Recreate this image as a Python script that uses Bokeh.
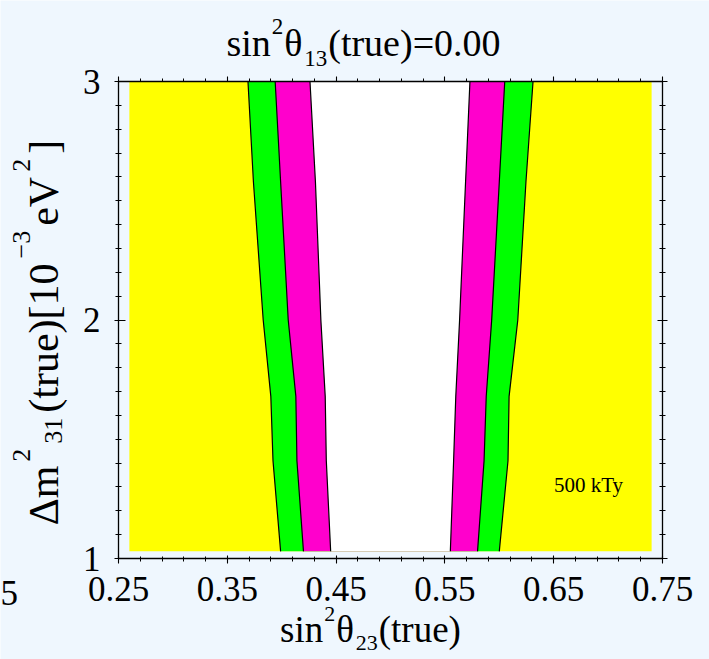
import math
from bokeh.plotting import figure
from bokeh.models import Label, LinearAxis, FixedTicker, CustomJSTickFormatter, Range1d
from bokeh.embed import file_html
from bokeh.resources import INLINE

# ---------------- data ----------------
y_levels    = [1.03, 1.41, 1.68, 2.00, 2.58, 3.00]
left_outer  = [0.399, 0.392, 0.390, 0.383, 0.374, 0.369]
left_mid    = [0.420, 0.414, 0.413, 0.406, 0.399, 0.394]
left_inner  = [0.445, 0.441, 0.440, 0.436, 0.431, 0.426]
right_inner = [0.555, 0.558, 0.560, 0.5635, 0.569, 0.573]
right_mid   = [0.580, 0.586, 0.588, 0.593, 0.600, 0.605]
right_outer = [0.600, 0.608, 0.609, 0.617, 0.6245, 0.631]
region_x = [0.26, 0.74]
region_y = [1.03, 3.00]
x_ticks = [0.25, 0.35, 0.45, 0.55, 0.65, 0.75]
x_tick_labels = ["0.25", "0.35", "0.45", "0.55", "0.65", "0.75"]
y_ticks = [1, 2, 3]
y_tick_labels = ["1", "2", "3"]
annotation_text = "500 kTy"
X0, X1 = 0.25, 0.75
Y0, Y1 = 1.0, 3.0

# ---------------- layout ----------------
W, H = 709, 659
FL, FR, FT, FB = 118, 662, 81, 558      # where the axes box sits (pixels)
PX = (FR - FL) / (X1 - X0)
PY = (FB - FT) / (Y1 - Y0)
BG = "#EFF7FE"
FONT = "Liberation Serif"

p = figure(width=W, height=H,
           x_range=Range1d(X0 - FL / PX, X1 + (W - FR) / PX),
           y_range=Range1d(Y0 - (H - FB) / PY, Y1 + FT / PY),
           output_backend="svg", toolbar_location=None,
           x_axis_location=None, y_axis_location=None,
           min_border=0)
p.background_fill_color = BG
p.border_fill_color = BG
p.outline_line_color = None
p.xgrid.visible = False
p.ygrid.visible = False

x_minor = [round(X0 + 0.02 * i, 4) for i in range(26)]
y_minor = [round(Y0 + 0.1 * i, 4) for i in range(21)]


def mk_axis(ticks, minor, labels, loc, bounds, tin, tout, mtin, mtout):
    ax = LinearAxis(ticker=FixedTicker(ticks=ticks, minor_ticks=minor),
                    fixed_location=loc, bounds=bounds)
    ax.axis_line_color = "black"
    ax.axis_line_width = 1.3
    ax.major_tick_line_color = "black"
    ax.minor_tick_line_color = "black"
    ax.major_tick_line_width = 1.1
    ax.minor_tick_line_width = 1.0
    ax.major_tick_in = tin
    ax.major_tick_out = tout
    ax.minor_tick_in = mtin
    ax.minor_tick_out = mtout
    ax.major_label_text_font = FONT
    ax.major_label_text_font_size = "35px"
    ax.major_label_text_color = "black"
    if labels is None:
        ax.formatter = CustomJSTickFormatter(code="return ''")
        ax.major_label_standoff = 0
    else:
        ax.major_label_overrides = {t: l for t, l in zip(ticks, labels)}
    return ax


bottom = mk_axis(x_ticks, x_minor, x_tick_labels, Y0, (X0, X1), 3, 5, 2, 3)
bottom.major_label_standoff = 13
top = mk_axis(x_ticks, x_minor, None, Y1, (X0, X1), 0, 5, 0, 3)
left = mk_axis(y_ticks, y_minor, y_tick_labels, X0, (Y0, Y1), 7, 4, 3, 3)
left.major_label_standoff = 14
right = mk_axis(y_ticks, y_minor, None, X1, (Y0, Y1), 5, 5, 3, 3)
p.add_layout(bottom, "below")
p.add_layout(top, "above")
p.add_layout(left, "left")
p.add_layout(right, "right")

# ---------------- regions ----------------
p.quad(left=[region_x[0]], right=[region_x[1]], bottom=[region_y[0]], top=[region_y[1]],
       fill_color="#FFFF00", line_color=None)


def band(lb, rb, color):
    xs = list(lb) + list(reversed(rb))
    ys = list(y_levels) + list(reversed(y_levels))
    p.patch(x=xs, y=ys, fill_color=color, line_color=None)


band(left_outer, right_outer, "#00FF00")
band(left_mid, right_mid, "#FF00CC")
band(left_inner, right_inner, "#FFFFFF")
for b in (left_outer, left_mid, left_inner, right_inner, right_mid, right_outer):
    p.line(x=b, y=y_levels, line_color="black", line_width=1.2)

p.add_layout(Label(x=0.682, y=1.31, text=annotation_text, text_font=FONT,
                   text_font_size="21px", text_align="center",
                   text_baseline="alphabetic", text_color="black"))

# ---------------- rich texts ----------------
WID = {"s": .389, "i": .278, "n": .5, "θ": .5, "(": .333, "t": .278, "r": .333,
       "u": .5, "e": .444, ")": .333, "=": .564, ".": .25, "Δ": .612, "m": .778,
       "[": .333, "]": .333, "−": .564, "V": .722, " ": .25}


def tw(txt, fs):
    return sum(WID.get(c, .5) for c in txt) * fs


def lab(x, y, t, fs, angle):
    # x, y: canvas pixels from the top-left corner
    p.add_layout(Label(x=x, y=H - y, x_units="screen", y_units="screen",
                       text=t, angle=angle,
                       text_font=FONT, text_font_size=f"{fs}px",
                       text_align="left", text_baseline="alphabetic", text_color="black"))


def rich(pieces, center, base, size, small, sup_off, sub_off, gap=1.0, rotated=False):
    total = sum(tw(t, size if k == "n" else small) for t, k in pieces) + gap * (len(pieces) - 1)
    pos = center - total / 2 if not rotated else center + total / 2
    for t, k in pieces:
        fs = size if k == "n" else small
        off = 0 if k == "n" else (sup_off if k == "sup" else sub_off)
        if not rotated:
            lab(pos, base - off, t, fs, 0.0)
        else:
            lab(base - off, pos, t, fs, math.pi / 2)
        adv = tw(t, fs) + gap
        pos = pos + adv if not rotated else pos - adv


rich([("sin", "n"), ("2", "sup"), ("θ", "n"), ("13", "sub"), ("(true)=0.00", "n")],
     center=363, base=42, size=38, small=23, sup_off=16, sub_off=-16)
rich([("sin", "n"), ("2", "sup"), ("θ", "n"), ("23", "sub"), ("(true)", "n")],
     center=370, base=629, size=37, small=22, sup_off=16, sub_off=-13)
rich([("Δm", "n"), ("2", "sup"), ("31", "sub"), ("(true)[10", "n"), ("−3", "sup"),
      ("eV", "n"), ("2", "sup"), ("]", "n")],
     center=332, base=43, size=42, small=26, sup_off=22, sub_off=-10, gap=5, rotated=True)

# stray tick label of the neighbouring panel
lab(0, 592, "5", 35, 0.0)

open("out.html", "w").write(file_html(p, INLINE))
